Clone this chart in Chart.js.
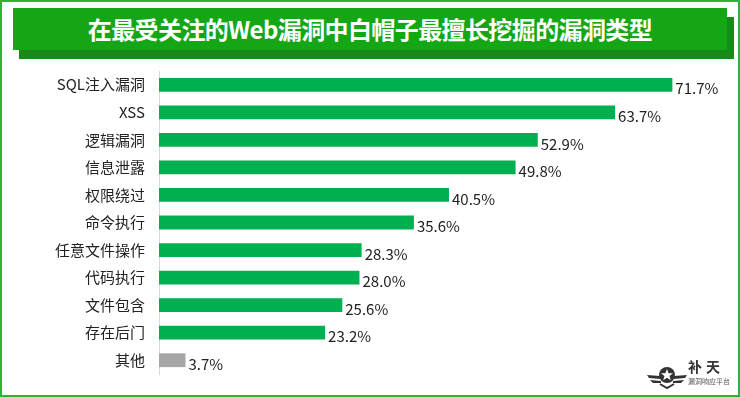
<!DOCTYPE html>
<html>
<head>
<meta charset="utf-8">
<script src="https://cdn.jsdelivr.net/npm/chart.js@4"></script>
<style>
  html, body { margin: 0; padding: 0; background: #fff; }
  #frame {
    position: relative; width: 740px; height: 397px; box-sizing: border-box;
    border: 2px solid #2bb33a; overflow: hidden;
    font-family: "Noto Sans CJK SC", "Noto Sans", sans-serif;
  }
  #shadow { position: absolute; left: 17px; top: 15px; width: 715px; height: 42px; background: #178a17; }
  #title {
    position: absolute; left: 11px; top: 6px; width: 714px; height: 42px; background: #14a614;
    color: #fff; font-weight: bold; font-size: 24px; line-height: 42px; text-align: center;
    letter-spacing: -0.6px;
  }
  #chart { position: absolute; left: -2px; top: -2px; }
  #logo { position: absolute; left: 644px; top: 356px; width: 94px; height: 34px; color: #333; }
  #logo .big { position: absolute; left: 42px; top: -2px; font-size: 14px; font-weight: bold; letter-spacing: 4px; }
  #logo .small { position: absolute; left: 42px; top: 18px; font-size: 7px; color: #555; }
</style>
</head>
<body>
<div id="frame">
  <div id="shadow"></div>
  <div id="title">在最受关注的Web漏洞中白帽子最擅长挖掘的漏洞类型</div>
  <canvas id="chart" width="740" height="397"></canvas>
  <div id="logo">
    <svg width="42" height="32" viewBox="0 0 42 30">
      <path d="M1 16 L14 17 L14 20 L3 19 Z M41 16 L28 17 L28 20 L39 19 Z M4 21 L15 22 L15 24 L7 24 Z M38 21 L27 22 L27 24 L35 24 Z" fill="#333"/>
      <circle cx="21" cy="16" r="8" fill="#333"/>
      <polygon points="21,10 22.6,14.3 27,14.3 23.5,17 24.8,21.3 21,18.7 17.2,21.3 18.5,17 15,14.3 19.4,14.3" fill="#fff"/>
      <path d="M14 25 L21 29 L28 25" stroke="#333" stroke-width="2" fill="none"/>
    </svg>
    <span class="big">补天</span>
    <span class="small">漏洞响应平台</span>
  </div>
</div>
<script>
const categories = ["SQL注入漏洞", "XSS", "逻辑漏洞", "信息泄露", "权限绕过", "命令执行",
  "任意文件操作", "代码执行", "文件包含", "存在后门", "其他"];
const shares = [71.7, 63.7, 52.9, 49.8, 40.5, 35.6, 28.3, 28.0, 25.6, 23.2, 3.7];
const barColors = categories.map((c) => (c === "其他" ? "#a6a6a6" : "#00b050"));

const valueLabels = {
  id: "valueLabels",
  afterDatasetsDraw(chart) {
    const ctx = chart.ctx;
    const meta = chart.getDatasetMeta(0);
    ctx.save();
    ctx.font = '15px "Noto Sans CJK SC", sans-serif';
    ctx.fillStyle = "#222";
    ctx.textBaseline = "middle";
    ctx.textAlign = "left";
    meta.data.forEach((bar, i) => {
      ctx.fillText(shares[i].toFixed(1) + "%", bar.x + 3, bar.y + 4);
    });
    ctx.restore();
  },
};

new Chart(document.getElementById("chart"), {
  type: "bar",
  data: {
    labels: categories,
    datasets: [
      {
        data: shares,
        backgroundColor: barColors,
        barPercentage: 0.5,
        categoryPercentage: 1,
      },
    ],
  },
  options: {
    indexAxis: "y",
    responsive: false,
    animation: false,
    layout: { padding: { top: 71, bottom: 19, right: 44, left: 0 } },
    scales: {
      x: { display: false, min: 0, max: 75 },
      y: {
        afterFit: (scale) => { scale.width = 159; },
        grid: { display: false, drawTicks: false },
        border: { display: true, color: "#d9d9d9", width: 1 },
        ticks: {
          padding: 14,
          color: "#222",
          font: { family: '"Noto Sans CJK SC", sans-serif', size: 15 },
        },
      },
    },
    plugins: {
      legend: { display: false },
      tooltip: { enabled: false },
    },
  },
  plugins: [valueLabels],
});
</script>
</body>
</html>
